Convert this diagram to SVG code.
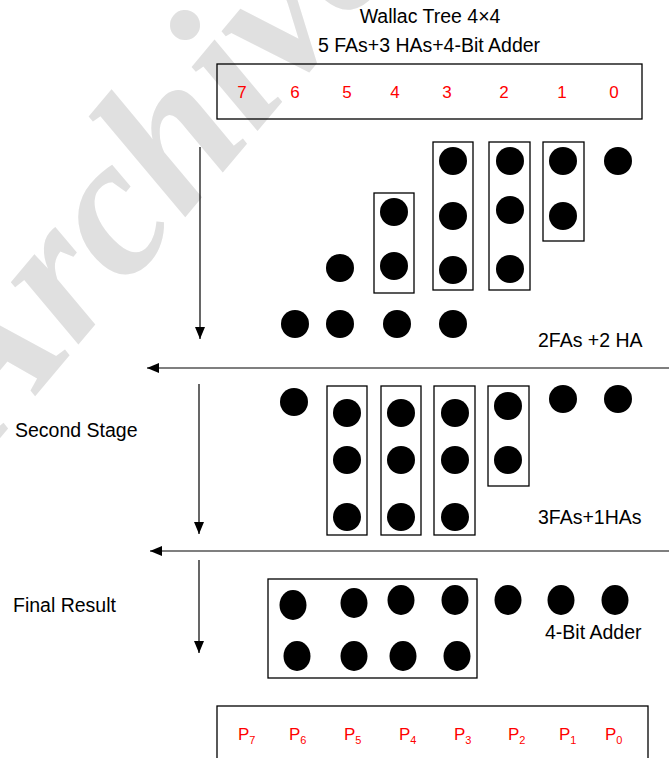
<svg xmlns="http://www.w3.org/2000/svg" width="669" height="758" viewBox="0 0 669 758">
<style>
  .t { font-family: "Liberation Sans", Arial, sans-serif; font-size: 19.5px; fill: #000; }
  .d { font-family: "Liberation Sans", Arial, sans-serif; font-size: 17px; fill: #ff0000; text-anchor: middle; }
  .p { font-family: "Liberation Sans", Arial, sans-serif; font-size: 17px; fill: #ff0000; }
  .sub { font-size: 11px; }
  .box { fill: none; stroke: #000; stroke-width: 1.3; }
  .dot { fill: #000; }
  .ln { stroke: #000; stroke-width: 1.2; fill: none; marker-end: url(#ah); }
  .wm { font-family: "Liberation Serif", "Times New Roman", serif; font-weight: bold; font-style: italic; font-size: 200px; fill: #e0e0e0; }
</style>
<defs>
  <marker id="ah" markerWidth="12" markerHeight="10" refX="12" refY="5" orient="auto" markerUnits="userSpaceOnUse">
    <path d="M0,0 L12,5 L0,10 z" fill="#000"/>
  </marker>
</defs>
<rect width="669" height="758" fill="#fff"/>
<text class="wm" transform="translate(-10,450) rotate(-50)">Archive</text>

<g id="title">
  <text class="t" x="430" y="23" text-anchor="middle">Wallac Tree 4×4</text>
  <text class="t" x="429" y="52" text-anchor="middle">5 FAs+3 HAs+4-Bit Adder</text>
</g>

<g id="header">
  <rect class="box" x="217" y="64" width="425" height="55"/>
  <text class="d" x="242" y="98">7</text>
  <text class="d" x="295" y="98">6</text>
  <text class="d" x="347" y="98">5</text>
  <text class="d" x="395" y="98">4</text>
  <text class="d" x="447" y="98">3</text>
  <text class="d" x="504" y="98">2</text>
  <text class="d" x="562" y="98">1</text>
  <text class="d" x="614" y="98">0</text>
</g>

<g id="stage1">
  <rect class="box" x="374" y="193" width="40" height="100"/>
  <rect class="box" x="433" y="142" width="40" height="148"/>
  <rect class="box" x="489" y="142" width="41" height="148"/>
  <rect class="box" x="543" y="142" width="41" height="99"/>
  <circle class="dot" cx="453" cy="161" r="14"/>
  <circle class="dot" cx="510" cy="161" r="14"/>
  <circle class="dot" cx="563" cy="161" r="14"/>
  <circle class="dot" cx="618" cy="161" r="14"/>
  <circle class="dot" cx="394" cy="212" r="14"/>
  <circle class="dot" cx="453" cy="216" r="14"/>
  <circle class="dot" cx="510" cy="210" r="14"/>
  <circle class="dot" cx="563" cy="216" r="14"/>
  <circle class="dot" cx="340" cy="268" r="14"/>
  <circle class="dot" cx="394" cy="266" r="14"/>
  <circle class="dot" cx="453" cy="270" r="14"/>
  <circle class="dot" cx="510" cy="269" r="14"/>
  <circle class="dot" cx="295" cy="324" r="14"/>
  <circle class="dot" cx="340" cy="324" r="14"/>
  <circle class="dot" cx="397" cy="324" r="14"/>
  <circle class="dot" cx="453" cy="324" r="14"/>
  <text class="t" x="538" y="347">2FAs +2 HA</text>
</g>

<g id="stage2">
  <text class="t" x="15" y="437">Second Stage</text>
  <rect class="box" x="327" y="386" width="40" height="149"/>
  <rect class="box" x="381" y="386" width="40" height="149"/>
  <rect class="box" x="434" y="386" width="41" height="149"/>
  <rect class="box" x="488" y="386" width="41" height="100"/>
  <circle class="dot" cx="294" cy="402" r="14"/>
  <circle class="dot" cx="347" cy="413" r="14"/>
  <circle class="dot" cx="401" cy="413" r="14"/>
  <circle class="dot" cx="455" cy="413" r="14"/>
  <circle class="dot" cx="347" cy="460" r="14"/>
  <circle class="dot" cx="401" cy="460" r="14"/>
  <circle class="dot" cx="455" cy="460" r="14"/>
  <circle class="dot" cx="347" cy="517" r="14"/>
  <circle class="dot" cx="401" cy="517" r="14"/>
  <circle class="dot" cx="455" cy="517" r="14"/>
  <circle class="dot" cx="508" cy="406" r="14"/>
  <circle class="dot" cx="508" cy="460" r="14"/>
  <circle class="dot" cx="563" cy="399" r="14"/>
  <circle class="dot" cx="618" cy="399" r="14"/>
  <text class="t" x="538" y="524">3FAs+1HAs</text>
</g>

<g id="final">
  <text class="t" x="13" y="612">Final Result</text>
  <rect class="box" x="268" y="579" width="209" height="99"/>
  <ellipse class="dot" cx="293" cy="605" rx="13.5" ry="15"/>
  <ellipse class="dot" cx="354" cy="603" rx="13.5" ry="15"/>
  <ellipse class="dot" cx="401" cy="600" rx="13.5" ry="15"/>
  <ellipse class="dot" cx="455" cy="600" rx="13.5" ry="15"/>
  <ellipse class="dot" cx="508" cy="600" rx="13.5" ry="15"/>
  <ellipse class="dot" cx="561" cy="600" rx="13.5" ry="15"/>
  <ellipse class="dot" cx="615" cy="600" rx="13.5" ry="15"/>
  <ellipse class="dot" cx="297" cy="656" rx="13.5" ry="15"/>
  <ellipse class="dot" cx="354" cy="656" rx="13.5" ry="15"/>
  <ellipse class="dot" cx="403" cy="656" rx="13.5" ry="15"/>
  <ellipse class="dot" cx="457" cy="656" rx="13.5" ry="15"/>
  <text class="t" x="545" y="639">4-Bit Adder</text>
</g>

<g id="result">
  <rect class="box" x="217" y="706" width="431" height="60"/>
  <text class="p" x="238" y="740">P<tspan class="sub" dy="4">7</tspan></text>
  <text class="p" x="289" y="740">P<tspan class="sub" dy="4">6</tspan></text>
  <text class="p" x="344" y="740">P<tspan class="sub" dy="4">5</tspan></text>
  <text class="p" x="399" y="740">P<tspan class="sub" dy="4">4</tspan></text>
  <text class="p" x="454" y="740">P<tspan class="sub" dy="4">3</tspan></text>
  <text class="p" x="508" y="740">P<tspan class="sub" dy="4">2</tspan></text>
  <text class="p" x="559" y="740">P<tspan class="sub" dy="4">1</tspan></text>
  <text class="p" x="605" y="740">P<tspan class="sub" dy="4">0</tspan></text>
</g>

<g id="connectors">
  <line class="ln" x1="200" y1="147" x2="200" y2="339"/>
  <line class="ln" x1="669" y1="368" x2="147" y2="368"/>
  <line class="ln" x1="199" y1="384" x2="199" y2="534"/>
  <line class="ln" x1="669" y1="551" x2="150" y2="551"/>
  <line class="ln" x1="199" y1="560" x2="199" y2="653"/>
</g>
</svg>
